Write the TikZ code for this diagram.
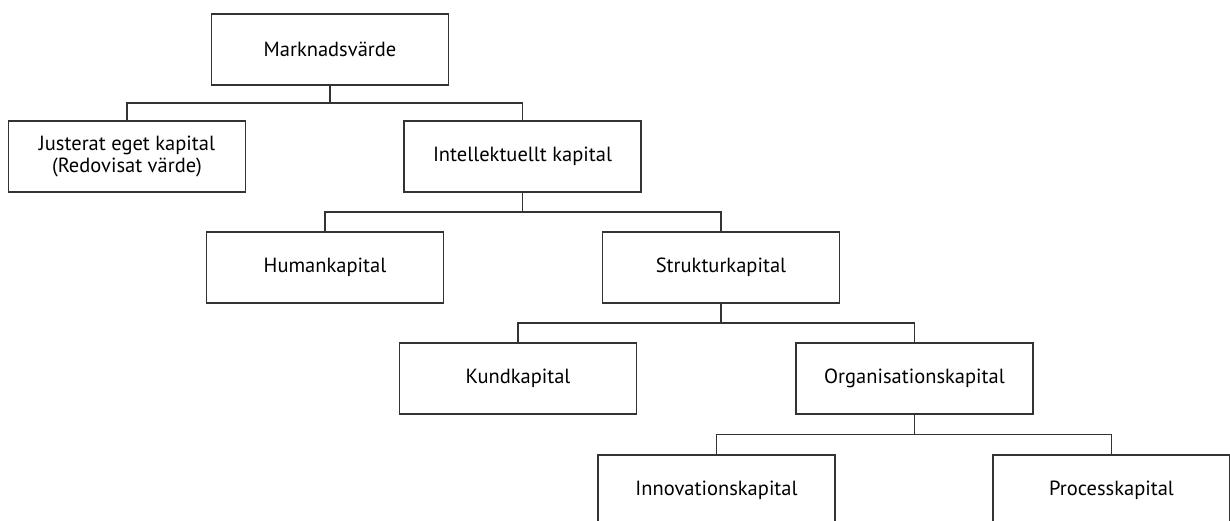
\documentclass[tikz,border=0pt]{standalone}
\usepackage{fontspec}
\setmainfont{PT Sans}
\usetikzlibrary{calc}
\begin{document}
\begin{tikzpicture}[x=1pt,y=-1pt,
  box/.style={draw=black!80, line width=1.2pt, minimum width=237pt, minimum height=71pt,
    inner sep=0pt, align=center, font=\fontsize{20.5}{22}\selectfont},
  link/.style={draw=black!80, line width=1.2pt}]
\useasboundingbox (0,0) rectangle (1230,520);
\clip (0,0) rectangle (1230,520);
\node[box] (mv) at (330,49.5) {Marknadsvärde};
\node[box] (ja) at (127,156.5) {Justerat eget kapital\\(Redovisat värde)};
\node[box] (ik) at (522.5,156.5) {Intellektuellt kapital};
\node[box] (hk) at (325,267.5) {Humankapital};
\node[box] (sk) at (721,267.5) {Strukturkapital};
\node[box] (kk) at (518,378.5) {Kundkapital};
\node[box] (ok) at (914.5,378.5) {Organisationskapital};
\node[box] (ink) at (716.5,490.5) {Innovationskapital};
\node[box] (pk) at (1111.5,490.5) {Processkapital};
\coordinate (j1) at ($(mv.south)!0.5!(mv.south |- ik.north)$);
\draw[link] (mv.south) -- (j1);
\draw[link] (ja.north) |- (j1) -| (ik.north);
\coordinate (j2) at ($(ik.south)!0.5!(ik.south |- hk.north)$);
\draw[link] (ik.south) -- (j2);
\draw[link] (hk.north) |- (j2) -| (sk.north);
\coordinate (j3) at ($(sk.south)!0.5!(sk.south |- kk.north)$);
\draw[link] (sk.south) -- (j3);
\draw[link] (kk.north) |- (j3) -| (ok.north);
\coordinate (j4) at ($(ok.south)!0.5!(ok.south |- ink.north)$);
\draw[link] (ok.south) -- (j4);
\draw[link] (ink.north) |- (j4) -| (pk.north);
\end{tikzpicture}
\end{document}
